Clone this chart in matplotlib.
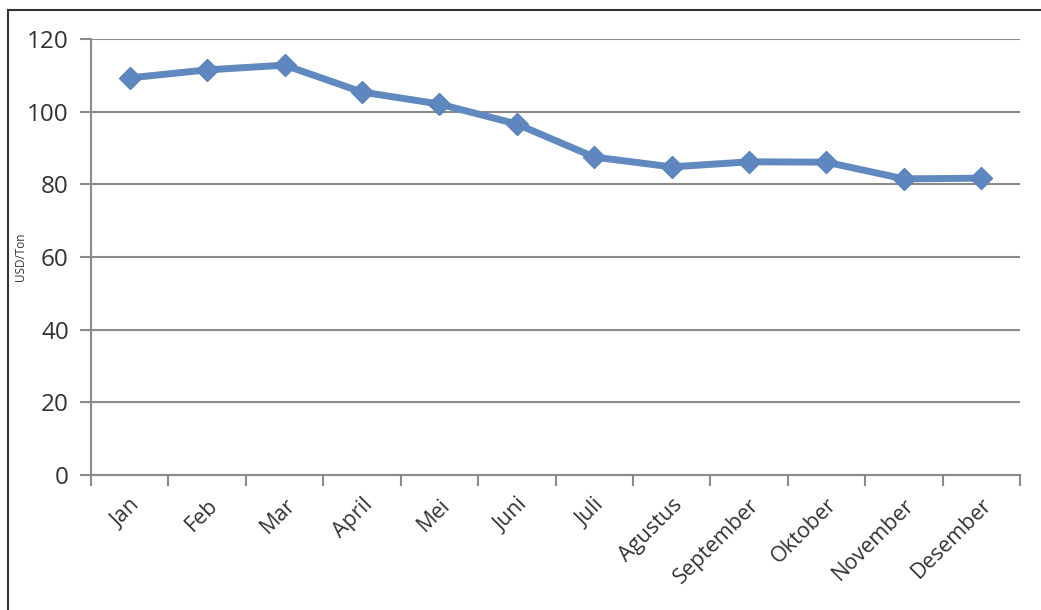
import matplotlib
matplotlib.use("Agg")
import matplotlib.pyplot as plt
from matplotlib.patches import Rectangle

months = ["Jan", "Feb", "Mar", "April", "Mei", "Juni", "Juli", "Agustus",
          "September", "Oktober", "November", "Desember"]
prices = [109.3, 111.5, 112.8, 105.4, 102.1, 96.6, 87.5, 84.8, 86.2, 86.1, 81.5, 81.7]
yticks = [0, 20, 40, 60, 80, 100, 120]

plt.rcParams['font.family'] = ['Open Sans', 'DejaVu Sans']

W, H = 1041, 610
fig = plt.figure(figsize=(W / 100, H / 100), dpi=100)
fig.patches.append(Rectangle((8 / W, -0.2), 2, 1.2 - 10 / H, transform=fig.transFigure,
                             fill=False, edgecolor='#333333', linewidth=1.5))

ax = fig.add_axes([91 / W, 1 - 475 / H, (1020 - 91) / W, (475 - 39) / H])
x = list(range(len(months)))
ax.plot(x, prices, color='#6089C0', linewidth=5, marker='D', markersize=11,
        markeredgecolor='#5A83BB', markerfacecolor='#5E87BF', zorder=3)

ax.set_xlim(-0.5, len(months) - 0.5)
ax.set_ylim(0, 120)
ax.set_yticks(yticks)
ax.set_yticklabels([str(v) for v in yticks], fontsize=17.5, color='#333333')
ax.set_xticks(x)
ax.set_xticklabels(months, rotation=45, ha='right', rotation_mode='anchor',
                   fontsize=15.5, color='#333333')
ax.tick_params(axis='x', length=0, pad=14)
ax.set_xticks([i - 0.5 for i in range(len(months) + 1)], minor=True)
ax.tick_params(axis='x', which='minor', length=8, width=1.5, color='#8a8a8a', direction='out')
ax.tick_params(axis='y', length=8, width=1.5, color='#8a8a8a', pad=8)

ax.grid(axis='y', color='#8a8a8a', linewidth=1.5)
ax.set_axisbelow(True)
for s in ['top', 'right']:
    ax.spines[s].set_visible(False)
for s in ['left', 'bottom']:
    ax.spines[s].set_color('#8a8a8a')
    ax.spines[s].set_linewidth(1.5)

ax.set_ylabel("USD/Ton", fontsize=8.5, color='#333333')
ax.yaxis.set_label_coords((27 - 91) / 929, 0.5)

fig.savefig("out.png", dpi=100)
